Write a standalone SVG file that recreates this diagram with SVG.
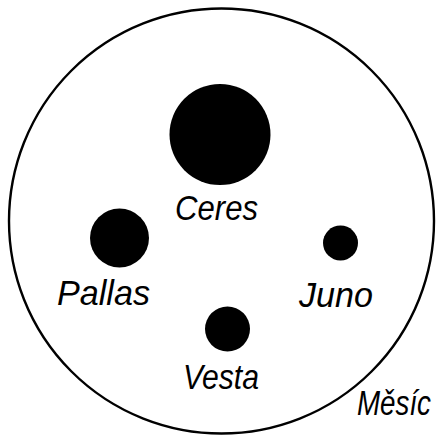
<svg xmlns="http://www.w3.org/2000/svg" width="447" height="437" viewBox="0 0 447 437">
<style>
.body{fill:#000}
.lbl{font-family:"Liberation Sans",Arial,sans-serif;font-style:italic;font-size:35px;fill:#000}
</style>
<rect width="447" height="437" fill="#fff"/>
<circle id="moon" cx="221.5" cy="221" r="212.5" fill="none" stroke="#000" stroke-width="2.4"/>
<g id="ceres"><circle class="body" cx="220" cy="134.5" r="50.5"/><text class="lbl" x="175" y="220" textLength="83" lengthAdjust="spacingAndGlyphs">Ceres</text></g>
<g id="pallas"><circle class="body" cx="119.5" cy="238" r="29.5"/><text class="lbl" x="57" y="305" textLength="93" lengthAdjust="spacingAndGlyphs">Pallas</text></g>
<g id="juno"><circle class="body" cx="340.5" cy="243" r="17.5"/><text class="lbl" x="299" y="307" textLength="74" lengthAdjust="spacingAndGlyphs">Juno</text></g>
<g id="vesta"><circle class="body" cx="227.5" cy="329" r="22.5"/><text class="lbl" x="183" y="389" textLength="76" lengthAdjust="spacingAndGlyphs">Vesta</text></g>
<g id="mesic"><text class="lbl" x="357" y="415" font-size="33" textLength="74" lengthAdjust="spacingAndGlyphs">Měsíc</text></g>
</svg>
